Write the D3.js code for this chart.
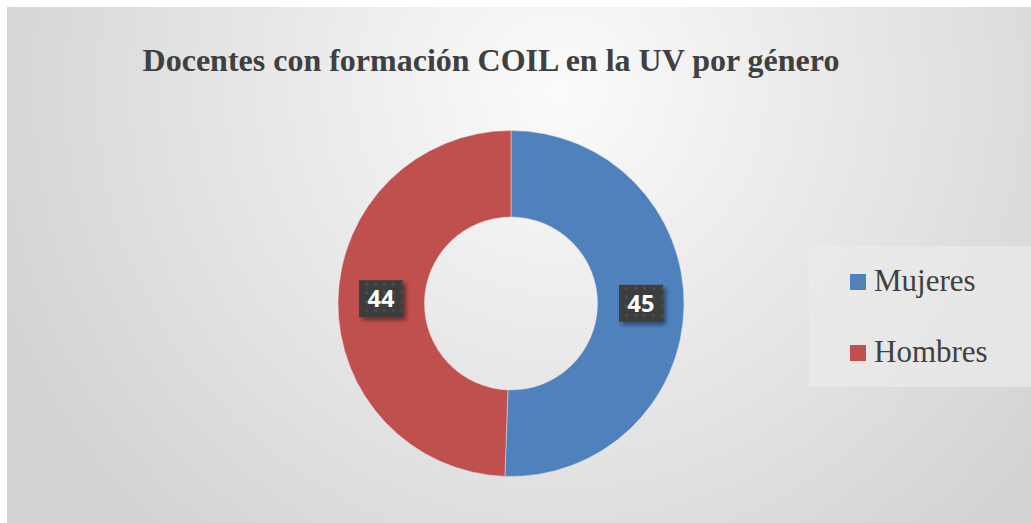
<!DOCTYPE html>
<html>
<head>
<meta charset="utf-8">
<script src="https://cdn.jsdelivr.net/npm/d3@7"></script>
<style>
html,body{margin:0;padding:0;background:#ffffff;}
svg{display:block;}
</style>
</head>
<body>
<svg id="chart" width="1031" height="523"></svg>
<script>
const title = "Docentes con formación COIL en la UV por género";
const categories = ["Mujeres", "Hombres"];
const values = [45, 44];
const colors = ["#4f81bd", "#c0504d"];

const W = 1031, H = 523;
const svg = d3.select("#chart");
const defs = svg.append("defs");

const bg = defs.append("radialGradient").attr("id","bg")
  .attr("gradientUnits","userSpaceOnUse")
  .attr("cx", 560).attr("cy", 90).attr("r", 620);
bg.append("stop").attr("offset","0%").attr("stop-color","#fbfbfb");
bg.append("stop").attr("offset","100%").attr("stop-color","#d2d2d2");

const pat = defs.append("pattern").attr("id","dots")
  .attr("patternUnits","userSpaceOnUse").attr("width",9).attr("height",9);
pat.append("rect").attr("width",9).attr("height",9).attr("fill","#3d3d3d");
pat.append("rect").attr("x",2).attr("y",2).attr("width",3).attr("height",3).attr("fill","#4b4b4b");

const shadow = defs.append("filter").attr("id","sh").attr("x","-30%").attr("y","-30%").attr("width","170%").attr("height","170%");
shadow.append("feGaussianBlur").attr("in","SourceAlpha").attr("stdDeviation",2.2);
shadow.append("feOffset").attr("dx",3).attr("dy",3).attr("result","b");
shadow.append("feComponentTransfer").append("feFuncA").attr("type","linear").attr("slope",0.45);
const m = shadow.append("feMerge");
m.append("feMergeNode");
m.append("feMergeNode").attr("in","SourceGraphic");

svg.append("rect").attr("x",7).attr("y",7).attr("width",W-7).attr("height",H-7).attr("fill","url(#bg)");

svg.append("text").attr("x",491).attr("y",71).attr("text-anchor","middle")
  .attr("font-family","'Liberation Serif','Times New Roman',serif").attr("font-weight","bold")
  .attr("font-size",32).attr("fill","#404040").text(title);

const cx = 511, cy = 303.5, rOuter = 173, rInner = 86.5;
const pie = d3.pie().sort(null).value(d => d)(values);
const arc = d3.arc().innerRadius(rInner).outerRadius(rOuter);
const labelArc = d3.arc().innerRadius(130).outerRadius(130);

const g = svg.append("g").attr("transform",`translate(${cx},${cy})`);
g.selectAll("path").data(pie).join("path")
  .attr("d", arc).attr("fill",(d,i)=>colors[i])
  .attr("stroke","#e6e6e6").attr("stroke-opacity",0.6).attr("stroke-width",0.8);

const lab = g.selectAll("g.lab").data(pie).join("g").attr("class","lab")
  .attr("transform", d => { const c = labelArc.centroid(d); return `translate(${c[0]},${c[1]-3})`; });
lab.append("rect").attr("x",-22).attr("y",-18).attr("width",44).attr("height",37)
  .attr("fill","url(#dots)").attr("filter","url(#sh)");
lab.append("text").attr("text-anchor","middle").attr("y",9)
  .attr("font-family","'Open Sans','DejaVu Sans',sans-serif").attr("font-weight","bold")
  .attr("font-size",23.5).attr("fill","#ffffff").text((d,i)=>values[i]);

svg.append("rect").attr("x",809).attr("y",246).attr("width",W-809).attr("height",141)
  .attr("fill","#ebebeb").attr("fill-opacity",0.7);
const leg = svg.append("g");
const legY = [290.5, 361.5];
categories.forEach((c,i)=>{
  leg.append("rect").attr("x",850).attr("y",legY[i]-16.5).attr("width",16).attr("height",16).attr("fill",colors[i]);
  leg.append("text").attr("x",874).attr("y",legY[i])
    .attr("font-family","'Liberation Serif','Times New Roman',serif")
    .attr("font-size",31).attr("fill","#404040").text(c);
});
</script>
</body>
</html>
